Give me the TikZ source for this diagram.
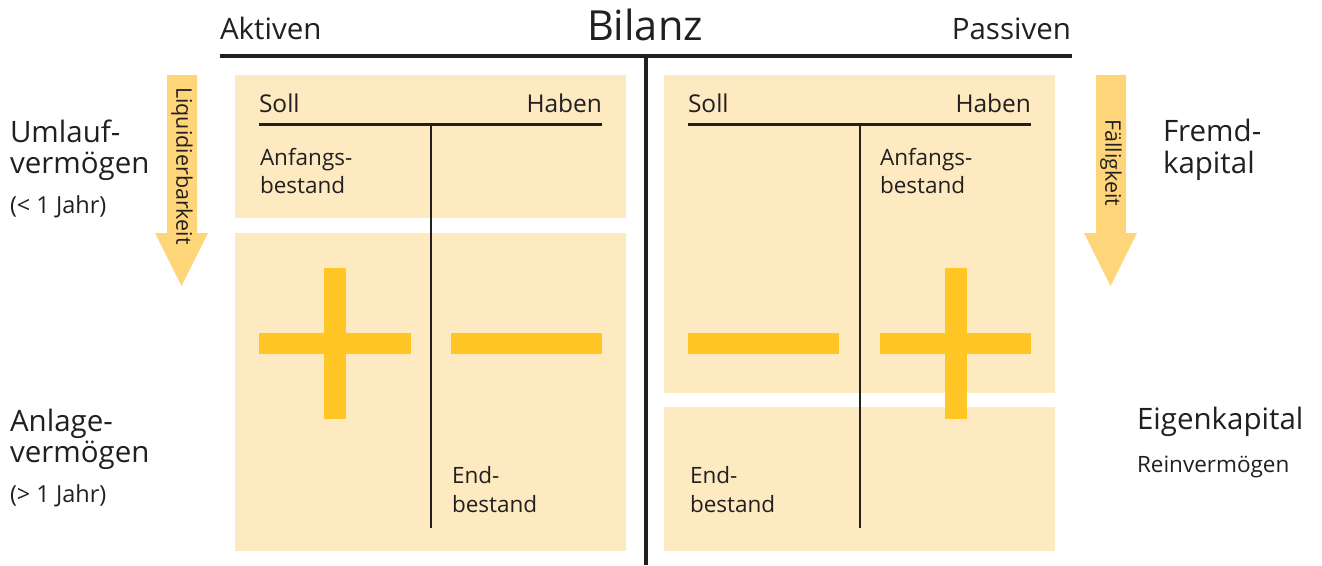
\documentclass[tikz,border=0pt]{standalone}
\usepackage{fontspec}
\setmainfont{Open Sans}
\definecolor{boxc}{RGB}{254,234,192}
\definecolor{signc}{RGB}{255,198,37}
\definecolor{arrc}{RGB}{255,213,122}
\definecolor{ink}{RGB}{35,31,32}
\newcommand{\fs}[1]{\fontsize{#1}{#1}\selectfont}
\begin{document}
\begin{tikzpicture}[x=1pt,y=-1pt,
  txt/.style={inner sep=0pt, outer sep=0pt, text=ink, anchor=base west},
  txte/.style={txt, anchor=base east},
  big/.style={font=\fs{29.5}},
  mid/.style={font=\fs{24.5}},
  sml/.style={font=\fs{22.5}},
  par/.style={font=\fs{23.5}},
  tline/.style={draw=ink, line width=2.6pt},
  mainline/.style={draw=ink, line width=3.3pt},
  panel/.style={fill=boxc},
  sign/.style={fill=signc},
  flow/.style={fill=arrc}]
\useasboundingbox (0,0) rectangle (1322,565);

% panels
\fill[panel] (235,75) rectangle (626,218);
\fill[panel] (235,233) rectangle (626,551);
\fill[panel] (664,75) rectangle (1055,393);
\fill[panel] (664,407) rectangle (1055,551);

% signs
\fill[sign] (259,333) rectangle (411,354);
\fill[sign] (324,268) rectangle (346,419);
\fill[sign] (451,333) rectangle (602,354);
\fill[sign] (688,333) rectangle (839,354);
\fill[sign] (880,333) rectangle (1031,354);
\fill[sign] (945,268) rectangle (967,419);

% T accounts
\coordinate (lTl) at (259,124.7);
\coordinate (lTr) at (602,124.7);
\coordinate (lTt) at (431,124.7);
\coordinate (lTb) at (431,528);
\coordinate (rTl) at (688,124.7);
\coordinate (rTr) at (1031,124.7);
\coordinate (rTt) at (860,124.7);
\coordinate (rTb) at (860,528);
\draw[tline] (lTl) -- (lTr);
\draw[tline] (lTt) -- (lTb);
\draw[tline] (rTl) -- (rTr);
\draw[tline] (rTt) -- (rTb);

% balance T
\coordinate (bL) at (220,56);
\coordinate (bR) at (1072,56);
\coordinate (bT) at (646,56);
\coordinate (bB) at (646,565);
\draw[mainline] (bL) -- (bR);
\draw[mainline] (bT) -- (bB);

% arrows
\fill[flow] (167,75) -- (197,75) -- (197,233) -- (208,233) -- (181.5,286) -- (155,233) -- (167,233) -- cycle;
\fill[flow] (1096,75) -- (1126,75) -- (1126,233) -- (1137,233) -- (1110.5,286) -- (1084,233) -- (1096,233) -- cycle;
\node[inner sep=0pt, text=ink, rotate=-90, font=\fs{21.5}] (liq) at (182,166) {Liquidierbarkeit};
\node[inner sep=0pt, text=ink, rotate=-90, font=\fs{21.5}] (fae) at (1111,163) {Fälligkeit};

% header
\node[txt, font=\fs{29.5}] (akt) at (220,39) {Aktiven};
\node[txt, anchor=base, font=\fs{41.5}] (bil) at (645,40) {Bilanz};
\node[txte, font=\fs{29.5}] (pas) at (1071,39) {Passiven};

% account heads
\node[txt, mid] (s1) at (259,112) {Soll};
\node[txte, mid] (h1) at (602,112) {Haben};
\node[txt, mid] (s2) at (688,112) {Soll};
\node[txte, mid] (h2) at (1031,112) {Haben};

\node[txt, sml] (a1) at (260,165) {Anfangs-};
\node[txt, sml] (a1b) at (260,193) {bestand};
\node[txt, sml] (a2) at (880,165) {Anfangs-};
\node[txt, sml] (a2b) at (880,193) {bestand};
\node[txt, sml] (e1) at (452,483) {End-};
\node[txt, sml] (e1b) at (452,512) {bestand};
\node[txt, sml] (e2) at (690,483) {End-};
\node[txt, sml] (e2b) at (690,512) {bestand};

% side labels
\node[txt, big] (u1) at (10,142) {Umlauf-};
\node[txt, big] (u2) at (10,173) {vermögen};
\node[txt, par] (u3) at (10,213) {(< 1 Jahr)};
\node[txt, big] (l1) at (10,431) {Anlage-};
\node[txt, big] (l2) at (10,462) {vermögen};
\node[txt, par] (l3) at (10,502) {(> 1 Jahr)};
\node[txt, big] (f1) at (1163,141) {Fremd-};
\node[txt, big] (f2) at (1163,173) {kapital};
\node[txt, big] (k1) at (1137,429) {Eigenkapital};
\node[txt, sml] (k2) at (1137,472) {Reinvermögen};
\end{tikzpicture}
\end{document}
